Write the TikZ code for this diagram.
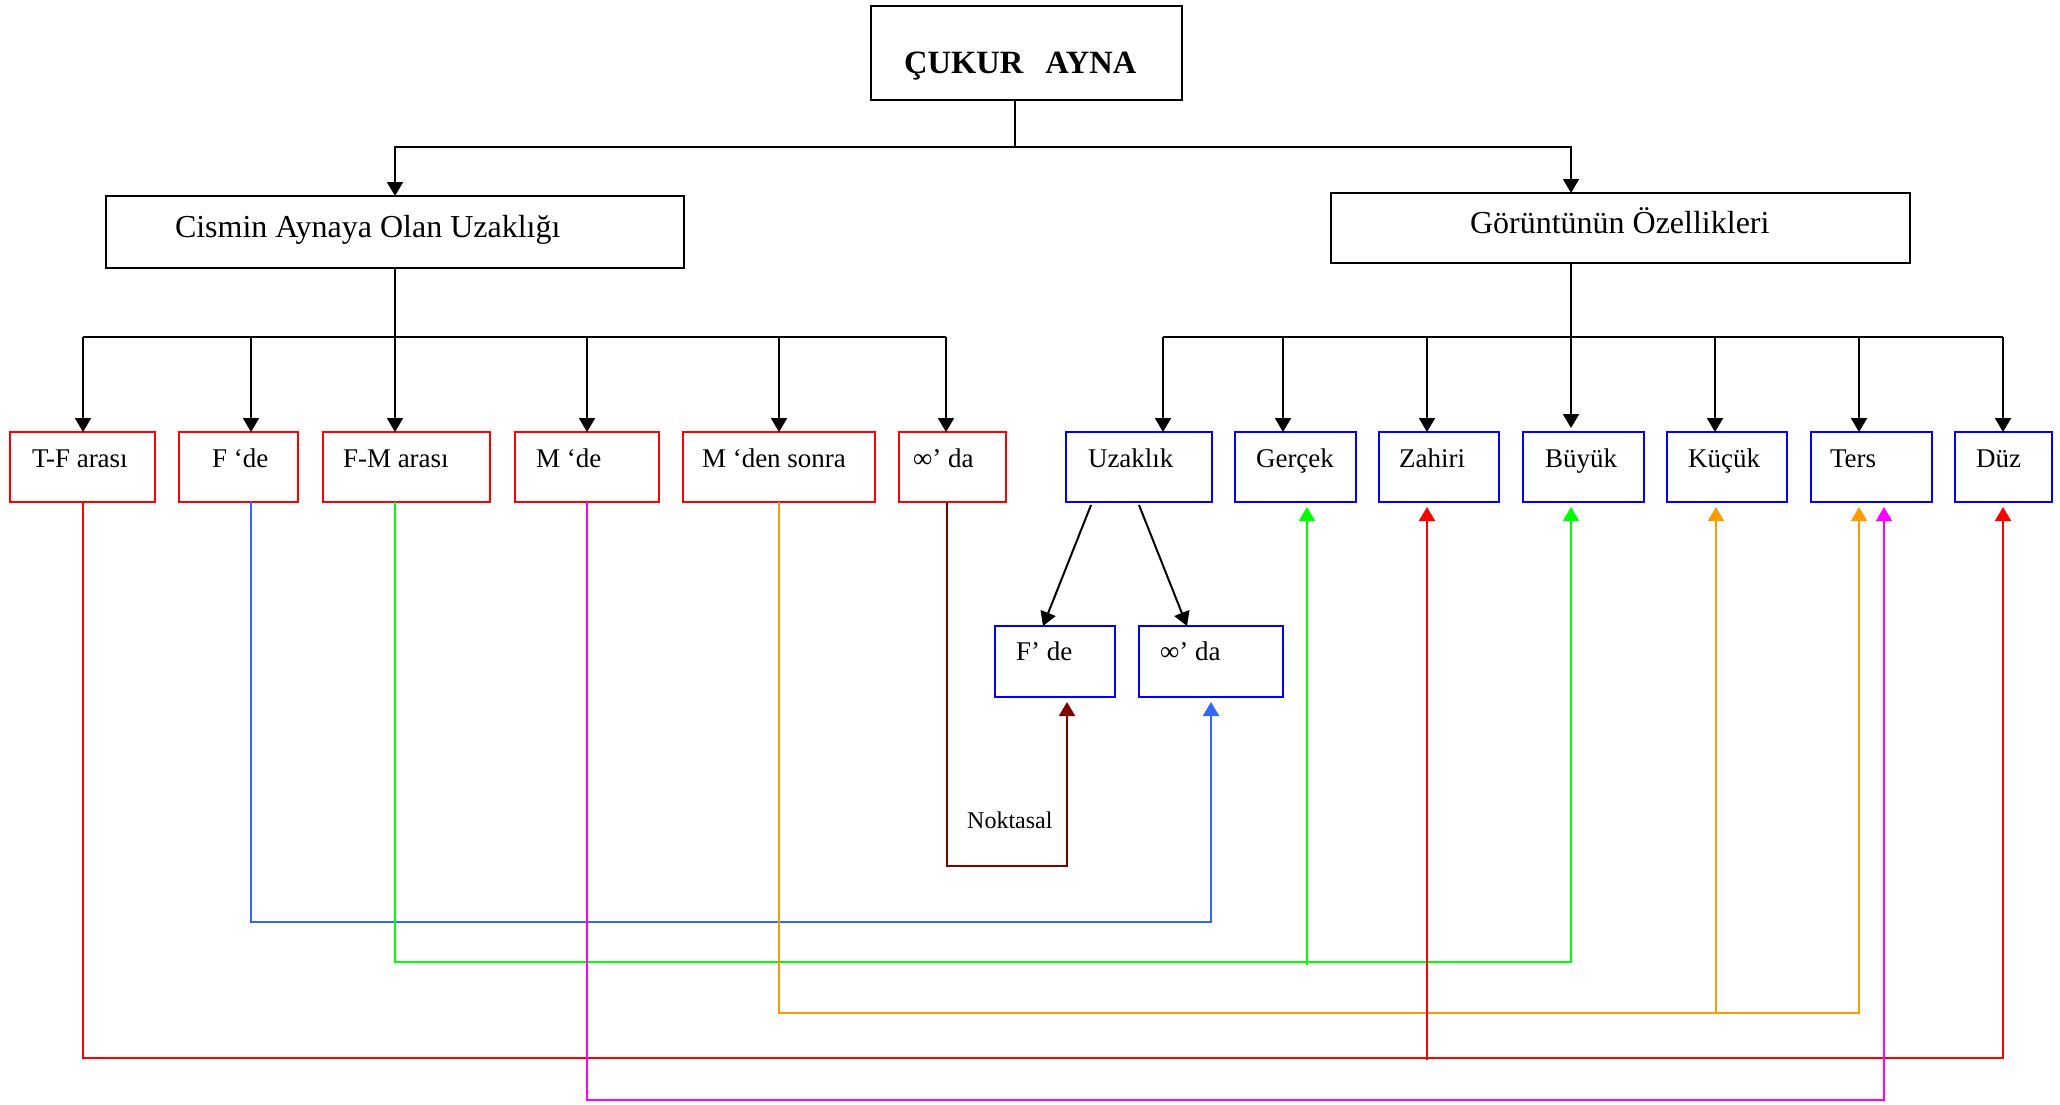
\documentclass[tikz,border=0pt]{standalone}
\usepackage{fontspec}
\setmainfont{Liberation Serif}
\usetikzlibrary{arrows.meta,calc}

\definecolor{dred}{HTML}{800000}
\definecolor{lblue}{HTML}{3366FF}
\definecolor{lgreen}{HTML}{00FF00}
\definecolor{orng}{HTML}{FF9900}
\definecolor{mag}{HTML}{FF00FF}
\definecolor{bblue}{HTML}{0000FF}

\tikzset{
  box/.style={draw, line width=2.5pt, inner sep=0pt, outer sep=0pt, anchor=north west},
  kbox/.style={box, draw=black},
  rbox/.style={box, draw=red},
  bbox/.style={box, draw=bblue},
  txt/.style={inner sep=0pt, outer sep=0pt, anchor=base west, font=\fontsize{27}{32}\selectfont},
  head/.style={inner sep=0pt, outer sep=0pt, anchor=base west, font=\fontsize{32}{38}\selectfont},
  ln/.style={draw=black, line width=2pt},
  arr/.style={ln, -{Triangle[length=14pt,width=16pt]}},
  carr/.style={line width=2pt, -{Triangle[length=14pt,width=16pt]}, shorten >=5pt},
}

\begin{document}
\begin{tikzpicture}[x=1pt, y=-1pt]
\fill[white] (0,0) rectangle (2060,1104);
\useasboundingbox (0,0) rectangle (2060,1104);

% top level
\node[kbox, minimum width=311pt, minimum height=94pt] (title) at (871,6) {};
\node[inner sep=0pt, anchor=base west, font=\bfseries\fontsize{32.5}{36}\selectfont] (titlet) at (904,73) {ÇUKUR\hspace*{22pt}AYNA};

\node[kbox, minimum width=578pt, minimum height=72pt] (cis) at (106,196) {};
\node[head] (cist) at (175,237) {Cismin Aynaya Olan Uzaklığı};
\node[kbox, minimum width=579pt, minimum height=70pt] (gor) at (1331,193) {};
\node[head] (gort) at (1470,233) {Görüntünün Özellikleri};

% distance boxes
\node[rbox, minimum width=145pt, minimum height=70pt] (tf)   at (10,432) {};
\node[rbox, minimum width=119pt, minimum height=70pt] (fde)  at (179,432) {};
\node[rbox, minimum width=167pt, minimum height=70pt] (fm)   at (323,432) {};
\node[rbox, minimum width=144pt, minimum height=70pt] (mde)  at (515,432) {};
\node[rbox, minimum width=192pt, minimum height=70pt] (mden) at (683,432) {};
\node[rbox, minimum width=107pt, minimum height=70pt] (inf)  at (899,432) {};
\node[txt] (tft)   at (32,467)  {T-F arası};
\node[txt] (fdet)  at (212,467) {F ‘de};
\node[txt] (fmt)   at (343,467) {F-M arası};
\node[txt] (mdet)  at (536,467) {M ‘de};
\node[txt] (mdent) at (702,467) {M ‘den sonra};
\node[txt] (inft)  at (913,467) {∞’ da};

% image property boxes
\node[bbox, minimum width=146pt, minimum height=70pt] (uz)   at (1066,432) {};
\node[bbox, minimum width=121pt, minimum height=70pt] (ger)  at (1235,432) {};
\node[bbox, minimum width=120pt, minimum height=70pt] (zah)  at (1379,432) {};
\node[bbox, minimum width=121pt, minimum height=70pt] (buy)  at (1523,432) {};
\node[bbox, minimum width=120pt, minimum height=70pt] (kuc)  at (1667,432) {};
\node[bbox, minimum width=121pt, minimum height=70pt] (ters) at (1811,432) {};
\node[bbox, minimum width=97pt,  minimum height=70pt] (duz)  at (1955,432) {};
\node[txt] (uzt)   at (1088,467) {Uzaklık};
\node[txt] (gert)  at (1256,467) {Gerçek};
\node[txt] (zaht)  at (1399,467) {Zahiri};
\node[txt] (buyt)  at (1545,467) {Büyük};
\node[txt] (kuct)  at (1688,467) {Küçük};
\node[txt] (terst) at (1830,467) {Ters};
\node[txt] (duzt)  at (1976,467) {Düz};

\node[bbox, minimum width=120pt, minimum height=71pt] (fpd)  at (995,626) {};
\node[bbox, minimum width=144pt, minimum height=71pt] (infd) at (1139,626) {};
\node[txt] (fpdt)  at (1016,660) {F’ de};
\node[txt] (infdt) at (1160,660) {∞’ da};

\node[inner sep=0pt, anchor=base west, font=\fontsize{24}{28}\selectfont] (nokt) at (967,828) {Noktasal};

% tree connectors
\coordinate (tb) at (1015,147);
\coordinate (gtap) at (1571,147);
\draw[ln] (title.south -| tb) -- (tb);
\draw[arr] (tb) -| (cis.north);
\draw[arr] (tb) -- (gtap) -- (gtap |- gor.north);

\coordinate (l1) at (83,337);  \coordinate (l2) at (251,337);
\coordinate (l3) at (395,337); \coordinate (l4) at (587,337);
\coordinate (l5) at (779,337); \coordinate (l6) at (946,337);
\draw[ln] (cis.south) -- (l3);
\draw[ln] (l1) -- (l6);
\draw[arr] (l1) -- (l1 |- tf.north);
\draw[arr] (l2) -- (l2 |- fde.north);
\draw[arr] (l3) -- (l3 |- fm.north);
\draw[arr] (l4) -- (l4 |- mde.north);
\draw[arr] (l5) -- (l5 |- mden.north);
\draw[arr] (l6) -- (l6 |- inf.north);

\coordinate (r1) at (1163,337); \coordinate (r2) at (1283,337);
\coordinate (r3) at (1427,337); \coordinate (r4) at (1571,337);
\coordinate (r5) at (1715,337); \coordinate (r6) at (1859,337);
\coordinate (r7) at (2003,337);
\draw[ln] (gor.south -| r4) -- (r4);
\draw[ln] (r1) -- (r7);
\draw[arr] (r1) -- (r1 |- uz.north);
\draw[arr] (r2) -- (r2 |- ger.north);
\draw[arr] (r3) -- (r3 |- zah.north);
\draw[arr] (r4) -- ([yshift=4pt]r4 |- buy.north);
\draw[arr] (r5) -- (r5 |- kuc.north);
\draw[arr] (r6) -- (r6 |- ters.north);
\draw[arr] (r7) -- (r7 |- duz.north);

\coordinate (ua) at (1091,505); \coordinate (ub) at (1139,505);
\draw[arr] (ua) -- ($(fpd.north)+(-12,0)$);
\draw[arr] (ub) -- ($(infd.north)+(-24,0)$);

% coloured links
\coordinate (d1) at (947,866); \coordinate (d2) at (1067,866);
\draw[carr, dred] (inf.south -| d1) -- (d1) -- (d2) -- (d2 |- fpd.south);

\coordinate (b1) at (251,922); \coordinate (b2) at (1211,922);
\draw[carr, lblue] (fde.south -| b1) -- (b1) -- (b2) -- (b2 |- infd.south);

\coordinate (g1) at (395,962); \coordinate (g2) at (1571,962); \coordinate (g3) at (1307,965);
\draw[carr, lgreen] (fm.south -| g1) -- (g1) -- (g2) -- (g2 |- buy.south);
\draw[carr, lgreen] (g3) -- (g3 |- ger.south);

\coordinate (o1) at (779,1013); \coordinate (o2) at (1859,1013); \coordinate (o3) at (1716,1013);
\draw[carr, orng] (mden.south -| o1) -- (o1) -- (o2) -- (o2 |- ters.south);
\draw[carr, orng] (o3) -- (o3 |- kuc.south);

\coordinate (e1) at (83,1058); \coordinate (e2) at (2003,1058); \coordinate (e3) at (1427,1060);
\draw[carr, red] (tf.south -| e1) -- (e1) -- (e2) -- (e2 |- duz.south);
\draw[carr, red] (e3) -- (e3 |- zah.south);

\coordinate (m1) at (587,1100); \coordinate (m2) at (1884,1100);
\draw[carr, mag] (mde.south -| m1) -- (m1) -- (m2) -- (m2 |- ters.south);
\end{tikzpicture}
\end{document}
